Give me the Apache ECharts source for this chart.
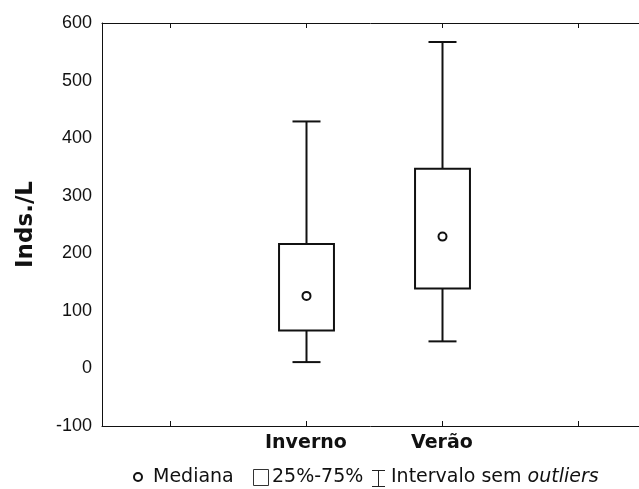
<!DOCTYPE html>
<html>
<head>
<meta charset="utf-8">
<script src="https://cdn.jsdelivr.net/npm/echarts@6/dist/echarts.min.js"></script>
<style>
  html, body { margin: 0; padding: 0; background: #fff; }
  #chart { width: 639px; height: 489px; }
</style>
</head>
<body>
<div id="chart"></div>
<script>
// Category slots on the x axis (slots 1 and 4 stay empty)
const categories = ['', 'Inverno', 'Verão', ''];
const slotPositions = [1, 2, 3, 4];
// Box statistics per season: [min, Q1, median, Q3, max] in Inds./L
const inverno = [11, 66, 126, 216, 429];
const verao = [47, 139, 229, 347, 567];
// Y axis range and step
const yMin = -100;
const yMax = 600;
const yStep = 100;

const boxData = [
  [slotPositions[1]].concat(inverno),
  [slotPositions[2]].concat(verao)
];

const INK = '#111';

function renderBox(params, api) {
  const pos = api.value(0);
  const unit = api.size([1, 0])[0];
  const halfBox = unit * 0.202;
  const halfCap = unit * 0.103;
  const pMin = api.coord([pos, api.value(1)]);
  const pQ1 = api.coord([pos, api.value(2)]);
  const pMed = api.coord([pos, api.value(3)]);
  const pQ3 = api.coord([pos, api.value(4)]);
  const pMax = api.coord([pos, api.value(5)]);
  const cx = Math.round(pMed[0]) + 0.5;
  const lineStyle = { stroke: INK, lineWidth: 2, fill: null };
  return {
    type: 'group',
    children: [
      { type: 'line', shape: { x1: cx, y1: pQ3[1], x2: cx, y2: pMax[1] }, style: lineStyle },
      { type: 'line', shape: { x1: cx, y1: pQ1[1], x2: cx, y2: pMin[1] }, style: lineStyle },
      { type: 'line', shape: { x1: cx - halfCap, y1: pMax[1], x2: cx + halfCap, y2: pMax[1] }, style: lineStyle },
      { type: 'line', shape: { x1: cx - halfCap, y1: pMin[1], x2: cx + halfCap, y2: pMin[1] }, style: lineStyle },
      {
        type: 'rect',
        shape: { x: cx - halfBox, y: pQ3[1], width: halfBox * 2, height: pQ1[1] - pQ3[1] },
        style: { stroke: INK, lineWidth: 2, fill: '#fff' }
      },
      {
        type: 'circle',
        shape: { cx: cx, cy: pMed[1], r: 4 },
        style: { stroke: INK, lineWidth: 2, fill: '#fff' }
      }
    ]
  };
}

function slotLabel(v) {
  const i = slotPositions.indexOf(Math.round(v));
  return i >= 0 ? categories[i] : '';
}

// The frame runs past the right edge of the page, so the x range is
// slightly shorter than the last half slot.
const xAxisBase = {
  type: 'value',
  min: 0.5,
  max: 4.45,
  axisLine: { onZero: false, lineStyle: { color: INK, width: 1 } },
  axisTick: { show: true, inside: true, length: 5, customValues: slotPositions, lineStyle: { color: INK } },
  splitLine: { show: false }
};

const legendY = 477;
const legendFont = { fontFamily: 'DejaVu Sans', fontSize: 19, fill: '#111' };

const chart = echarts.init(document.getElementById('chart'), null, { renderer: 'canvas' });
chart.setOption({
  backgroundColor: '#fff',
  animation: false,
  grid: { left: 102, top: 23, right: 0, bottom: 63, containLabel: false },
  xAxis: [
    Object.assign({}, xAxisBase, {
      position: 'bottom',
      axisLabel: {
        customValues: slotPositions,
        formatter: slotLabel,
        color: '#111', fontFamily: 'DejaVu Sans', fontWeight: 'bold', fontSize: 19, margin: 8
      }
    }),
    Object.assign({}, xAxisBase, {
      position: 'top',
      axisLabel: { show: false }
    })
  ],
  yAxis: {
    type: 'value',
    min: yMin,
    max: yMax,
    interval: yStep,
    name: 'Inds./L',
    nameLocation: 'middle',
    nameGap: 64,
    nameTextStyle: { color: '#111', fontFamily: 'DejaVu Sans', fontWeight: 'bold', fontSize: 23 },
    axisLine: { show: true, onZero: false, lineStyle: { color: INK, width: 1 } },
    axisTick: { show: false },
    axisLabel: { color: '#111', fontFamily: 'Liberation Sans', fontSize: 18, margin: 10 },
    splitLine: { show: false }
  },
  series: [{
    type: 'custom',
    renderItem: renderBox,
    encode: { x: 0, y: [1, 2, 3, 4, 5] },
    data: boxData,
    clip: false
  }],
  graphic: [
    {
      type: 'circle', shape: { cx: 138, cy: legendY, r: 4 },
      style: { stroke: INK, lineWidth: 2, fill: '#fff' }
    },
    {
      type: 'text', x: 153, y: legendY,
      style: Object.assign({ text: 'Mediana', verticalAlign: 'middle' }, legendFont)
    },
    {
      type: 'rect', shape: { x: 253.5, y: 469.5, width: 15, height: 16 },
      style: { stroke: '#333', lineWidth: 1, fill: '#fff' }
    },
    {
      type: 'text', x: 272, y: legendY,
      style: Object.assign({ text: '25%-75%', verticalAlign: 'middle' }, legendFont)
    },
    {
      type: 'group',
      children: [
        { type: 'line', shape: { x1: 378.5, y1: 470, x2: 378.5, y2: 487 }, style: { stroke: '#222', lineWidth: 1 } },
        { type: 'line', shape: { x1: 372, y1: 470.5, x2: 385, y2: 470.5 }, style: { stroke: '#222', lineWidth: 1 } },
        { type: 'line', shape: { x1: 372, y1: 486.5, x2: 385, y2: 486.5 }, style: { stroke: '#222', lineWidth: 1 } }
      ]
    },
    {
      type: 'text', x: 391, y: legendY,
      style: Object.assign({
        text: 'Intervalo sem {i|outliers}',
        verticalAlign: 'middle',
        rich: { i: { fontStyle: 'italic', fontFamily: 'DejaVu Sans', fontSize: 19, fill: '#111' } }
      }, legendFont)
    }
  ]
});
</script>
</body>
</html>
